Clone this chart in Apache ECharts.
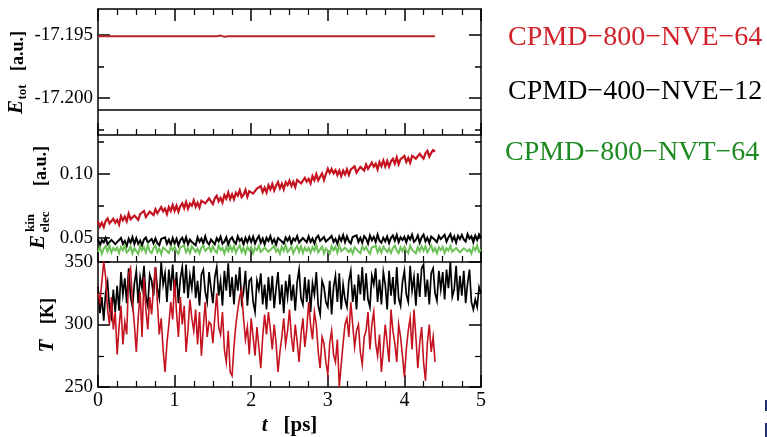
<!DOCTYPE html>
<html><head><meta charset="utf-8">
<script src="https://cdn.jsdelivr.net/npm/echarts@6/dist/echarts.min.js"></script>
<style>html,body{margin:0;padding:0;background:#fff}#c{width:767px;height:437px}</style>
</head><body><div id="c"></div>
<script>
// ---------- data ----------
const NAME_R = 'CPMD\u2212800\u2212NVE\u221264';
const NAME_K = 'CPMD\u2212400\u2212NVE\u221212';
const NAME_G = 'CPMD\u2212800\u2212NVT\u221264';
const dt = 0.025; // sampling step of the noisy series (ps)
const xTicksRange = [0, 5];
const etotTicks = [-17.200, -17.195];
const etotMinor = [-17.2025, -17.1975];
const ekinTicks = [0.05, 0.10];
const ekinMinor = [0.075, 0.125];
const tempRange = [250, 350];

const redEtotT = [0, 1.55, 1.6, 1.65, 1.7, 4.4];
const redEtotV = [-17.1951, -17.1951, -17.19505, -17.19515, -17.1951, -17.1951];
const blackEtotT = [0, 5];
const blackEtotV = [-17.20095, -17.20095];

// electronic kinetic energy (a.u.), one value every dt ps
const redEkin = [
0.0630,0.0590,0.0619,0.0585,0.0633,0.0653,0.0614,0.0602,0.0650,0.0619,
0.0642,0.0605,0.0671,0.0638,0.0667,0.0631,0.0691,0.0647,0.0634,0.0675,
0.0690,0.0642,0.0687,0.0673,0.0711,0.0664,0.0652,0.0706,0.0700,0.0679,
0.0725,0.0693,0.0681,0.0742,0.0709,0.0730,0.0687,0.0742,0.0712,0.0757,
0.0712,0.0753,0.0705,0.0749,0.0771,0.0733,0.0781,0.0729,0.0769,0.0752,
0.0794,0.0745,0.0776,0.0738,0.0791,0.0804,0.0771,0.0758,0.0809,0.0787,
0.0765,0.0810,0.0830,0.0787,0.0813,0.0777,0.0836,0.0808,0.0855,0.0804,
0.0842,0.0802,0.0853,0.0831,0.0872,0.0819,0.0838,0.0875,0.0822,0.0866,
0.0881,0.0847,0.0833,0.0886,0.0875,0.0905,0.0858,0.0893,0.0856,0.0912,
0.0879,0.0922,0.0872,0.0908,0.0937,0.0888,0.0924,0.0881,0.0936,0.0913,
0.0948,0.0906,0.0939,0.0898,0.0953,0.0968,0.0927,0.0919,0.0970,0.0941,
0.0962,0.0927,0.0984,0.0952,0.0999,0.0950,0.0978,0.1004,0.0953,0.0998,
0.1041,0.1009,0.1040,0.1005,0.1029,0.0992,0.1027,0.0983,0.1026,0.0996,
0.1037,0.0993,0.1036,0.1021,0.1060,0.1011,0.1003,0.1056,0.1047,0.1028,
0.1074,0.1040,0.1028,0.1089,0.1057,0.1080,0.1036,0.1094,0.1061,0.1106,
0.1059,0.1102,0.1057,0.1099,0.1119,0.1081,0.1130,0.1077,0.1116,0.1104,
0.1141,0.1094,0.1125,0.1088,0.1142,0.1153,0.1120,0.1107,0.1158,0.1137,
0.1120,0.1162,0.1181,0.1136,0.1165,0.1186,0.1174
];
const blackEkin = [
0.0492,0.0440,0.0482,0.0465,0.0500,0.0450,0.0435,0.0485,0.0476,0.0452,
0.0442,0.0484,0.0500,0.0454,0.0477,0.0438,0.0494,0.0462,0.0506,0.0452,
0.0498,0.0455,0.0481,0.0443,0.0488,0.0505,0.0463,0.0448,0.0493,0.0458,
0.0497,0.0460,0.0443,0.0493,0.0479,0.0505,0.0455,0.0487,0.0447,0.0500,
0.0456,0.0494,0.0443,0.0484,0.0502,0.0461,0.0506,0.0451,0.0488,0.0468,
0.0483,0.0443,0.0506,0.0470,0.0496,0.0456,0.0513,0.0466,0.0450,0.0488,
0.0494,0.0451,0.0499,0.0473,0.0511,0.0455,0.0471,0.0505,0.0449,0.0489,
0.0506,0.0471,0.0455,0.0513,0.0477,0.0495,0.0449,0.0501,0.0467,0.0509,
0.0470,0.0510,0.0457,0.0490,0.0516,0.0464,0.0496,0.0450,0.0502,0.0476,
0.0514,0.0462,0.0490,0.0449,0.0499,0.0508,0.0472,0.0456,0.0504,0.0479,
0.0507,0.0455,0.0497,0.0480,0.0515,0.0465,0.0450,0.0500,0.0491,0.0467,
0.0512,0.0469,0.0495,0.0457,0.0502,0.0519,0.0477,0.0462,0.0507,0.0472,
0.0458,0.0500,0.0516,0.0470,0.0493,0.0454,0.0510,0.0478,0.0522,0.0468,
0.0512,0.0475,0.0458,0.0508,0.0494,0.0520,0.0470,0.0502,0.0462,0.0515,
0.0496,0.0456,0.0519,0.0483,0.0509,0.0469,0.0526,0.0479,0.0463,0.0501,
0.0473,0.0511,0.0460,0.0501,0.0519,0.0478,0.0523,0.0468,0.0505,0.0485,
0.0509,0.0466,0.0514,0.0488,0.0526,0.0470,0.0486,0.0520,0.0464,0.0504,
0.0526,0.0474,0.0502,0.0461,0.0511,0.0520,0.0484,0.0468,0.0516,0.0491,
0.0485,0.0525,0.0472,0.0505,0.0531,0.0479,0.0511,0.0465,0.0517,0.0491,
0.0524,0.0489,0.0473,0.0531,0.0495,0.0513,0.0467,0.0519,0.0485,0.0527,
0.0500
];
const greenEkin = [
0.0390,0.0428,0.0377,0.0418,0.0436,0.0395,0.0440,0.0385,0.0422,0.0402,
0.0425,0.0382,0.0430,0.0404,0.0442,0.0386,0.0402,0.0436,0.0380,0.0420,
0.0415,0.0375,0.0438,0.0402,0.0428,0.0388,0.0445,0.0398,0.0382,0.0420,
0.0440,0.0388,0.0416,0.0375,0.0425,0.0434,0.0398,0.0382,0.0430,0.0405,
0.0432,0.0395,0.0378,0.0428,0.0414,0.0440,0.0390,0.0422,0.0382,0.0435,
0.0435,0.0392,0.0418,0.0380,0.0425,0.0442,0.0400,0.0385,0.0430,0.0395,
0.0435,0.0400,0.0384,0.0442,0.0406,0.0424,0.0378,0.0430,0.0396,0.0438,
0.0398,0.0438,0.0385,0.0418,0.0444,0.0392,0.0424,0.0378,0.0430,0.0404,
0.0432,0.0380,0.0422,0.0405,0.0440,0.0390,0.0375,0.0425,0.0416,0.0392,
0.0380,0.0422,0.0438,0.0392,0.0415,0.0376,0.0432,0.0400,0.0444,0.0390,
0.0388,0.0431,0.0380,0.0415,0.0438,0.0392,0.0437,0.0383,0.0425,0.0400,
0.0423,0.0385,0.0428,0.0401,0.0444,0.0388,0.0400,0.0433,0.0378,0.0418,
0.0412,0.0378,0.0436,0.0405,0.0430,0.0385,0.0442,0.0396,0.0384,0.0424,
0.0438,0.0390,0.0414,0.0378,0.0428,0.0431,0.0396,0.0380,0.0433,0.0408,
0.0430,0.0398,0.0375,0.0426,0.0417,0.0438,0.0388,0.0425,0.0385,0.0432,
0.0437,0.0390,0.0420,0.0383,0.0422,0.0440,0.0403,0.0382,0.0428,0.0398,
0.0432,0.0402,0.0381,0.0440,0.0409,0.0421,0.0380,0.0428,0.0398,0.0436,
0.0400,0.0436,0.0388,0.0415,0.0441,0.0395,0.0421,0.0381,0.0428,0.0406,
0.0430,0.0383,0.0420,0.0402,0.0438,0.0393,0.0378,0.0422,0.0418,0.0389,
0.0383,0.0420,0.0435,0.0395,0.0412,0.0379,0.0430,0.0403,0.0441,0.0392,
0.0410
];
// temperature (K), one value every dt ps
const blackTemp = [
330,309,322,303,326,334,313,306,328,310,
331,311,342,324,337,317,345,322,314,333,
343,317,338,329,347,322,315,340,335,323,
346,329,321,350,332,341,318,344,327,348,
323,342,317,337,346,325,348,321,339,329,
347,321,335,315,340,344,326,318,342,329,
317,338,346,323,335,315,343,327,349,322,
338,316,340,327,346,318,326,343,315,335,
337,318,310,335,328,341,316,332,312,338,
319,339,313,329,342,316,332,309,335,322,
340,319,332,311,334,344,321,316,338,318,
336,310,333,324,342,315,308,335,330,318,
314,335,308,330,339,318,341,312,332,320,
314,335,343,318,332,312,340,324,346,319,
341,320,314,339,332,345,318,336,316,342,
332,312,343,323,338,316,346,321,315,334,
343,324,318,347,327,338,315,341,322,345,
348,322,336,316,341,345,325,319,343,328,
342,320,344,329,350,322,328,347,319,339,
323,343,317,333,344,318,312,320,314,330,
325
];
const redTemp = [
325,318,334,350,338,312,300,322,296,310,
276,298,315,284,302,292,340,345,318,300,
278,305,326,290,338,312,296,322,308,330,
346,318,292,305,280,262,285,300,318,304,
336,310,290,322,300,315,278,296,320,305,
295,312,284,310,275,298,318,290,302,300,
285,306,325,298,292,310,280,270,295,262,
259,282,300,312,322,328,305,288,298,276,
305,290,275,298,282,265,290,308,292,310,
296,280,300,285,262,278,290,305,284,295,
312,290,278,300,286,270,292,305,282,296,
318,300,288,310,300,278,265,290,285,270,
260,285,295,276,270,288,250,268,285,300,
305,290,318,300,282,295,300,278,268,290,
295,310,280,300,310,285,275,292,262,280,
300,285,270,312,295,285,270,300,290,275,
258,280,295,305,280,312,290,265,285,298,
270,255,285,300,278,290,270
];

// ---------- helpers ----------
const pairs = vals => vals.map((v, i) => [+(i * dt).toFixed(3), v]);
const zip = (t, v) => t.map((x, i) => [x, v[i]]);
const FONT = 'Liberation Serif';
const RED = '#c4121f', BLACK = '#000000', GREEN = '#6cc257';

function xAx(grid, pos, extra) {
  return Object.assign({
    type: 'value', gridIndex: grid, position: pos,
    min: xTicksRange[0], max: xTicksRange[1], interval: 1,
    axisLine: { onZero: false, lineStyle: { color: '#000', width: 1.5 } },
    axisTick: { inside: true, length: 12, lineStyle: { color: '#000', width: 1.5 } },
    minorTick: { show: true, splitNumber: 4, length: 6, lineStyle: { color: '#000', width: 1.2 } },
    axisLabel: { show: false }, splitLine: { show: false }
  }, extra || {});
}
function yAx(grid, pos, min, max, ticks, len, showLine, label) {
  return {
    type: 'value', gridIndex: grid, position: pos, min: min, max: max,
    axisLine: { show: showLine, onZero: false, lineStyle: { color: '#000', width: 1.5 } },
    axisTick: { inside: true, length: len, customValues: ticks, lineStyle: { color: '#000', width: 1.5 } },
    axisLabel: label ? Object.assign({ customValues: ticks, fontFamily: FONT, fontSize: 19, color: '#000', margin: 5 }, label) : { show: false },
    splitLine: { show: false }
  };
}
function tAx(pos, labels) {
  return { type: 'value', gridIndex: 2, position: pos, min: tempRange[0], max: tempRange[1], interval: 50,
    axisLine: { onZero: false, lineStyle: { color: '#000', width: 1.5 } },
    axisTick: { inside: true, length: 12, lineStyle: { color: '#000', width: 1.5 } },
    minorTick: { show: true, splitNumber: 2, length: 6, lineStyle: { color: '#000', width: 1.2 } },
    axisLabel: labels ? { fontFamily: FONT, fontSize: 19, color: '#000', margin: 5 } : { show: false },
    splitLine: { show: false } };
}
function rtext(x, y, text, font) {
  return { type: 'text', x: x, y: y, rotation: Math.PI / 2,
    style: { text: text, font: font, fill: '#000', align: 'center', verticalAlign: 'middle', textAlign: 'center', textVerticalAlign: 'middle' } };
}
function line(name, xi, yi, data, color, width) {
  return { name: name, type: 'line', xAxisIndex: xi, yAxisIndex: yi, data: data, showSymbol: false, symbol: 'none',
    lineStyle: { color: color, width: width, join: 'miter' }, itemStyle: { color: color } };
}

const E_MIN = -17.20294, E_MAX = -17.19294;
const K_MIN = 0.03125, K_MAX = 0.13047;
const BIG = 'italic bold 21px "Liberation Serif"', UNIT = 'bold 18px "Liberation Serif"', SMALL = 'bold 13px "Liberation Serif"';

const option = {
  animation: false,
  backgroundColor: '#fff',
  grid: [
    { left: 98, top: 9, width: 383, height: 126 },
    { left: 98, top: 135, width: 383, height: 127 },
    { left: 98, top: 262, width: 383, height: 127 }
  ],
  xAxis: [
    xAx(0, 'bottom'),
    xAx(0, 'top'),
    xAx(1, 'bottom'),
    xAx(2, 'bottom', {
      axisLabel: { show: true, fontFamily: FONT, fontSize: 20, color: '#000', margin: 4 },
      name: '{it|t}{n|[ps]}', nameLocation: 'middle', nameGap: 28,
      nameTextStyle: { rich: {
        it: { fontFamily: FONT, fontSize: 21, fontWeight: 'bold', fontStyle: 'italic', color: '#000' },
        n: { fontFamily: FONT, fontSize: 21, fontWeight: 'bold', color: '#000', padding: [0, 0, 0, 16] }
      } }
    })
  ],
  yAxis: [
    yAx(0, 'left', E_MIN, E_MAX, etotTicks, 12, true, { formatter: v => v.toFixed(3) }),
    yAx(0, 'left', E_MIN, E_MAX, etotMinor, 6, false, null),
    yAx(0, 'right', E_MIN, E_MAX, etotTicks, 12, true, null),
    yAx(0, 'right', E_MIN, E_MAX, etotMinor, 6, false, null),
    yAx(1, 'left', K_MIN, K_MAX, ekinTicks, 12, true, { formatter: v => v.toFixed(2) }),
    yAx(1, 'left', K_MIN, K_MAX, ekinMinor, 6, false, null),
    yAx(1, 'right', K_MIN, K_MAX, ekinTicks, 12, true, null),
    yAx(1, 'right', K_MIN, K_MAX, ekinMinor, 6, false, null),
    tAx('left', true),
    tAx('right', false)
  ],
  legend: [
    { data: [{ name: NAME_R, textStyle: { color: '#d2232a' } }], left: 503, top: 23.5 },
    { data: [{ name: NAME_K, textStyle: { color: '#000' } }], left: 503, top: 77.7 },
    { data: [{ name: NAME_G, textStyle: { color: '#1e8a22' } }], left: 500, top: 139 }
  ].map(l => Object.assign(l, {
    orient: 'vertical', icon: 'none', itemWidth: 0, itemHeight: 0, padding: 0,
    selectedMode: false, textStyle: Object.assign({ fontFamily: FONT, fontSize: 28 }, l.data[0].textStyle)
  })),
  graphic: [
    rtext(18, 51, '[a.u.]', UNIT),
    rtext(17, 107, 'E', BIG),
    rtext(23, 92, 'tot', SMALL),
    rtext(41, 166, '[a.u.]', UNIT),
    rtext(39, 242, 'E', BIG),
    rtext(31, 223, 'kin', SMALL),
    rtext(46, 222, 'elec', SMALL),
    rtext(48, 311, '[K]', UNIT),
    rtext(48, 346, 'T', BIG),
    { type: 'rect', shape: { x: 765, y: 400, width: 2, height: 11 }, style: { fill: '#1c2f7a' } },
    { type: 'rect', shape: { x: 765, y: 423, width: 2, height: 14 }, style: { fill: '#1c2f7a' } }
  ],
  series: [
    line(NAME_K, 0, 0, zip(blackEtotT, blackEtotV), BLACK, 1.5),
    line(NAME_R, 0, 0, zip(redEtotT, redEtotV), '#b8262c', 2),
    line(NAME_K, 2, 4, pairs(blackEkin), BLACK, 2),
    line(NAME_G, 2, 4, pairs(greenEkin), GREEN, 2),
    line(NAME_R, 2, 4, pairs(redEkin), RED, 2.2),
    line(NAME_K, 3, 8, pairs(blackTemp), BLACK, 1.7),
    line(NAME_R, 3, 8, pairs(redTemp), RED, 1.6)
  ]
};
const chart = echarts.init(document.getElementById('c'), null, { renderer: 'canvas' });
chart.setOption(option);
</script>
</body></html>
